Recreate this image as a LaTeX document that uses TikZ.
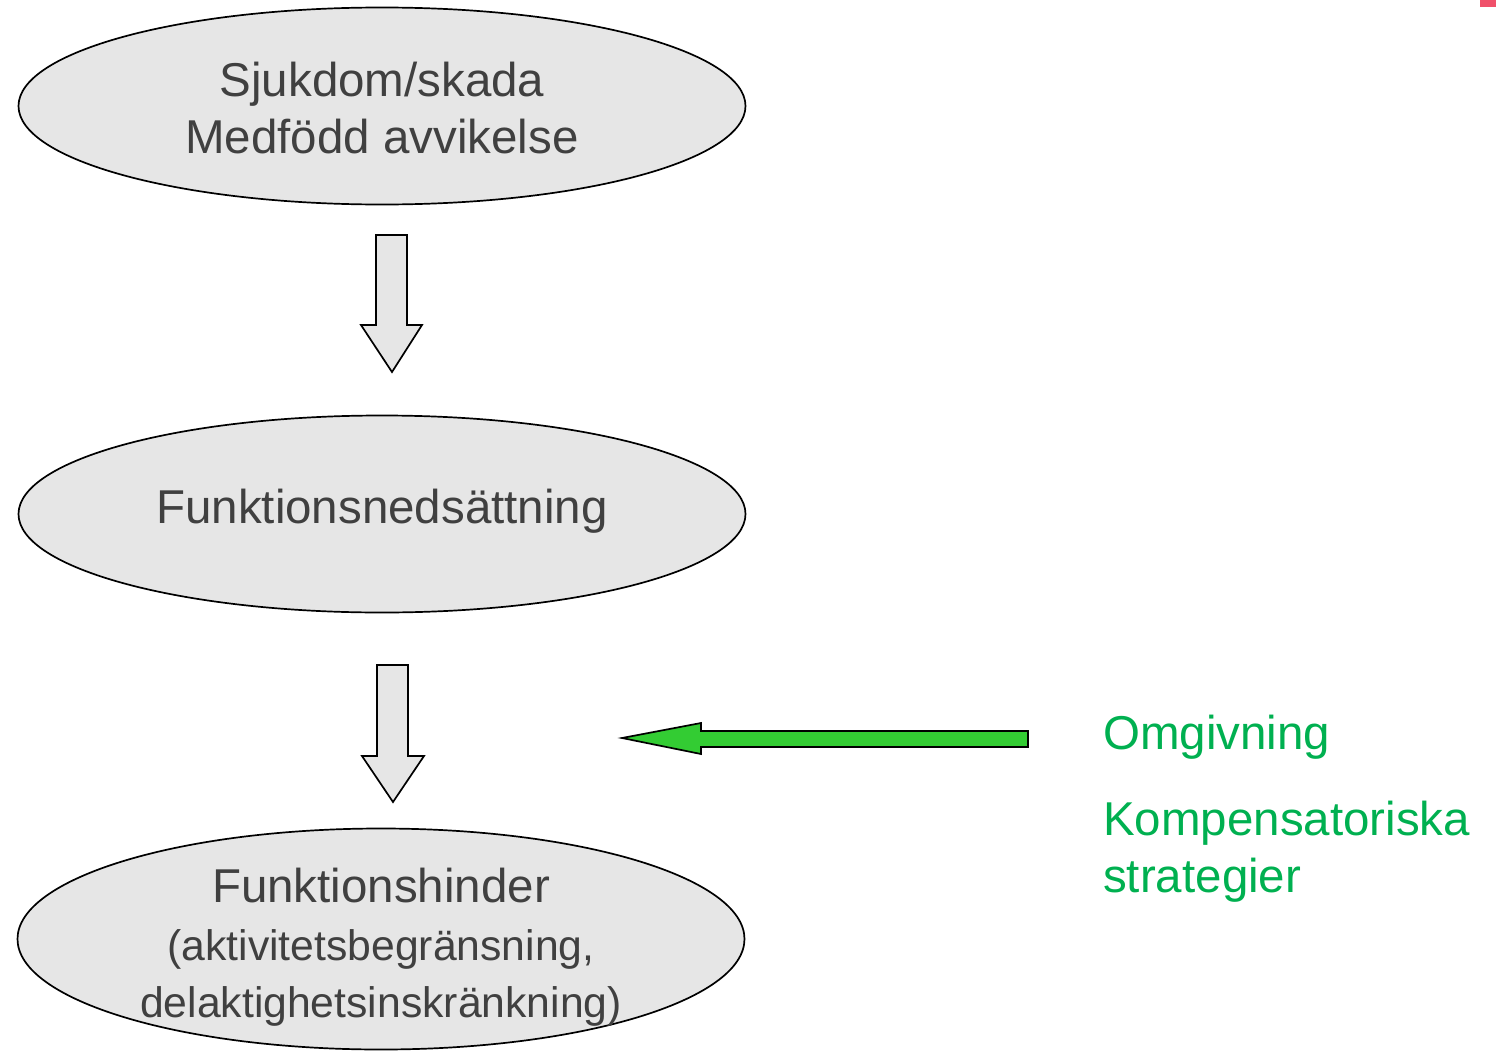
\documentclass[tikz,border=0pt]{standalone}
\usepackage{fontspec}
\setmainfont{Liberation Sans}
\usetikzlibrary{shapes.geometric}
\definecolor{txtgray}{HTML}{404040}
\definecolor{ellfill}{HTML}{E6E6E6}
\definecolor{arrgray}{HTML}{E6E6E6}
\definecolor{offgreen}{HTML}{00B050}
\definecolor{arrgreen}{HTML}{33CC33}
\definecolor{redmark}{HTML}{F0506A}
\tikzset{
  ell/.style={ellipse, draw=black, line width=1.7pt, fill=ellfill, minimum width=727pt, minimum height=197pt, inner sep=0pt},
  elltext/.style={text=txtgray, align=center, inner sep=0pt, font=\fontsize{47.5}{57}\selectfont},
  blockarrow/.style={draw=black, line width=1.7pt, fill=arrgray, line join=miter},
  greenarrow/.style={draw=black, line width=1.7pt, fill=arrgreen, line join=miter},
  greentext/.style={text=offgreen, anchor=west, inner sep=0pt, align=left, font=\fontsize{47.5}{57}\selectfont}
}
\begin{document}
\begin{tikzpicture}[x=1pt,y=-1pt]
\useasboundingbox (0,0) rectangle (1496,1052);
\fill[redmark] (1480,0) rectangle (1496,7);
\node[ell] (e1) at (382,106) {};
\node[elltext] (t1) at (382,108.5) {Sjukdom/skada\\Medfödd avvikelse};
\node[ell] (e2) at (382,514) {};
\node[elltext] (t2) at (382,511) {Funktionsnedsättning};
\node[ell, minimum height=221pt] (e3) at (381,939) {};
\node[elltext] (t3) at (381,947.5) {Funktionshinder\\[1pt]{\fontsize{42.7}{57}\selectfont (aktivitetsbegränsning,}\\[0pt]{\fontsize{42.7}{57}\selectfont delaktighetsinskränkning)}};
% block arrow 1
\draw[blockarrow] (376,235) -- (407,235) -- (407,325) -- (422,325) -- (392,372) -- (361,325) -- (376,325) -- cycle;
% block arrow 2
\draw[blockarrow] (377,665) -- (408,665) -- (408,756) -- (424,756) -- (393,802) -- (362,756) -- (377,756) -- cycle;
% green arrow
\draw[greenarrow] (1028,731) -- (701,731) -- (701,723) -- (622,738) -- (701,754) -- (701,747) -- (1028,747) -- cycle;
\node[greentext] (om) at (1103,737) {Omgivning};
\node[greentext] (ks) at (1103,852) {Kompensatoriska\\strategier};
\end{tikzpicture}
\end{document}
